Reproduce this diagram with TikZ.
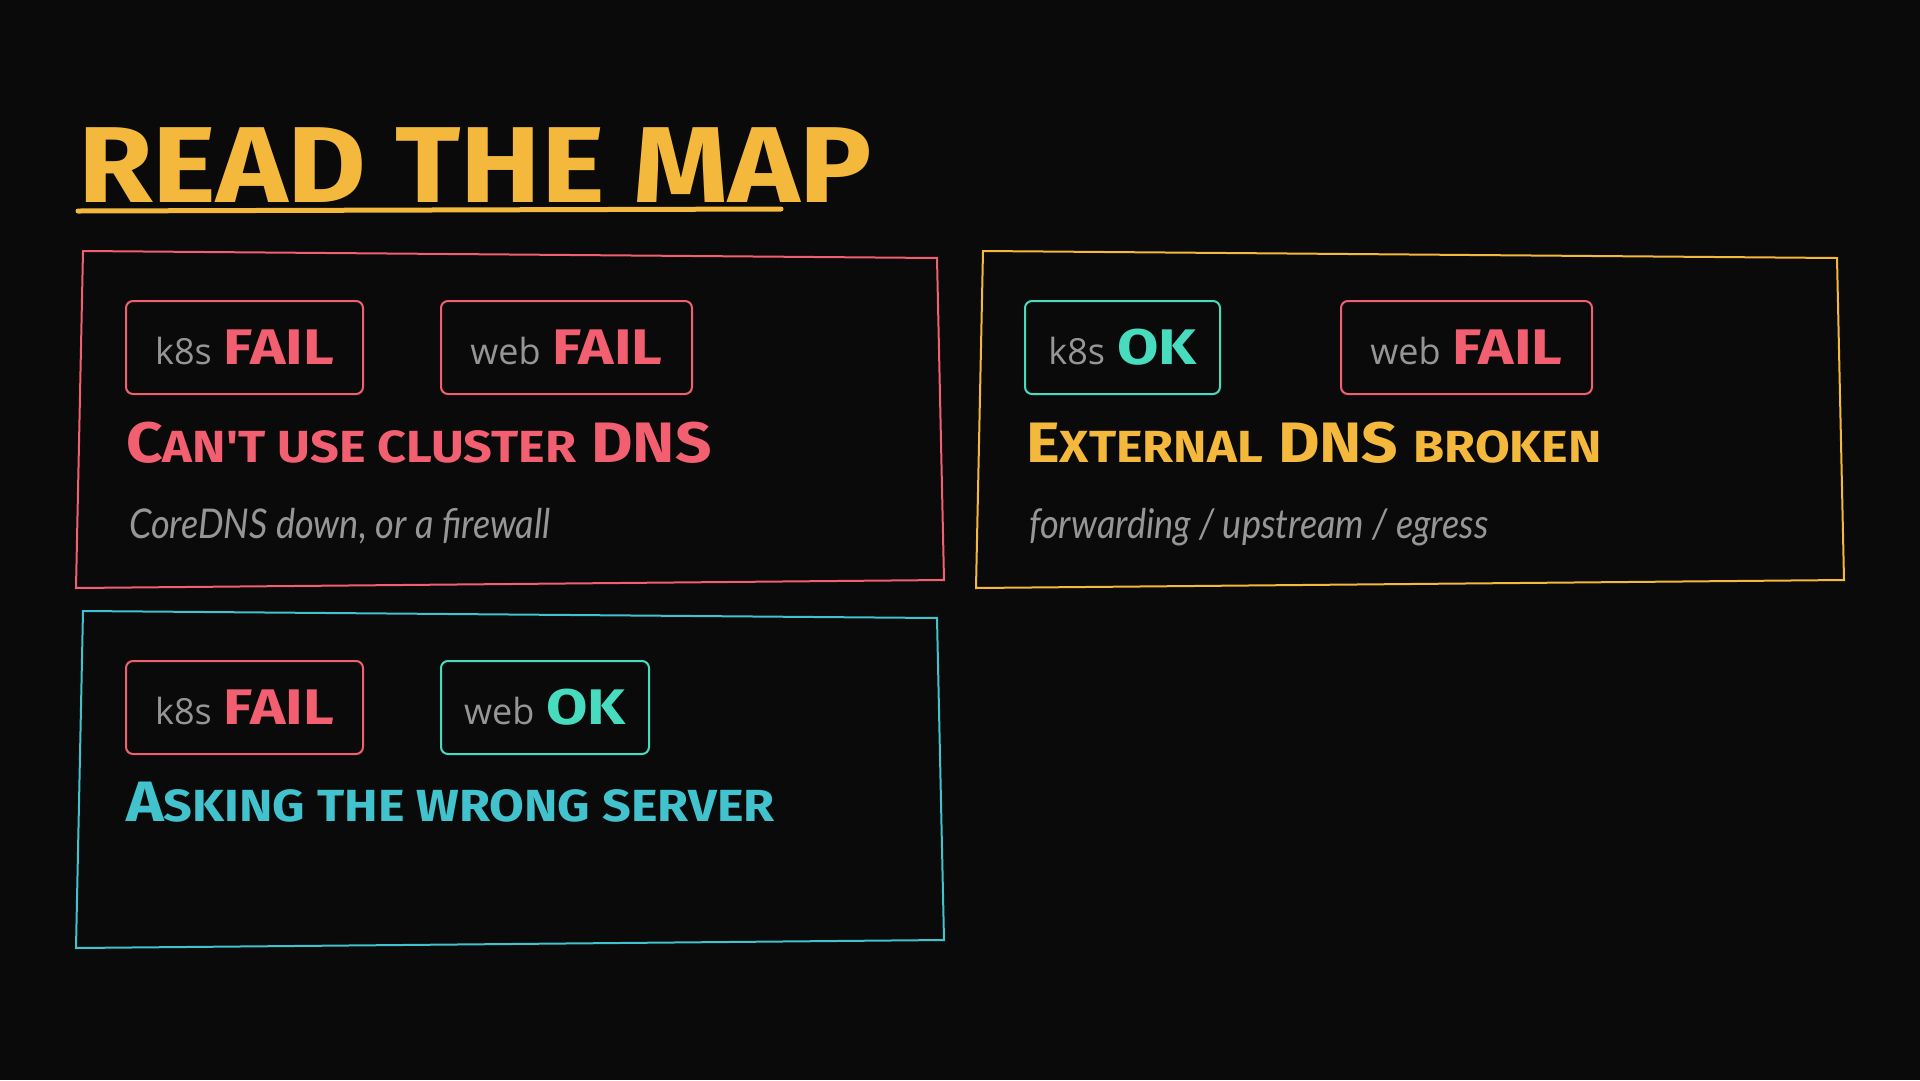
\documentclass[tikz,border=0pt]{standalone}
\usepackage{fontspec}
\setmainfont{Open Sans}
\newfontfamily\marker{Fira Sans}[FakeStretch=1.12]
\newfontfamily\markerw{Fira Sans}[FakeStretch=1.2]
\newfontfamily\hand{Lato}[FakeStretch=0.88]
\definecolor{bgc}{RGB}{10,10,10}
\definecolor{redc}{RGB}{242,95,112}
\definecolor{yelc}{RGB}{244,185,60}
\definecolor{cyac}{RGB}{66,194,204}
\definecolor{mintc}{RGB}{72,220,190}
\definecolor{greyc}{RGB}{150,150,150}
\newcommand\smc[1]{{\fontsize{45}{45}\selectfont\MakeUppercase{#1}}}
\newcommand\lbl[1]{{\color{greyc}\fontsize{36}{36}\selectfont #1}\hspace{12pt}}
\newcommand\fail{{\markerw\bfseries\fontsize{50}{50}\selectfont\color{redc}FAIL}}
\newcommand\okk{{\markerw\bfseries\fontsize{50}{50}\selectfont\color{mintc}OK}}
\tikzset{
  pill/.style={draw, rounded corners=7, line width=2, inner sep=0, minimum height=93, fill=bgc},
  heading/.style={anchor=base west, inner sep=0, font=\marker\bfseries\fontsize{57}{57}\selectfont},
  subline/.style={anchor=base west, inner sep=0, text=greyc, font=\hand\itshape\fontsize{41}{41}\selectfont},
  frame/.style={line width=2}
}
\begin{document}
\begin{tikzpicture}[x=1pt,y=-1pt]
\fill[bgc] (0,0) rectangle (1920,1080);
\useasboundingbox (0,0) rectangle (1920,1080);

% title
\node[anchor=base west, inner sep=0, text=yelc, font=\marker\bfseries\fontsize{108}{108}\selectfont] (title) at (78,202) {READ THE MAP};
\coordinate (ulA) at (78,211);
\coordinate (ulB) at (781,209);
\draw[yelc, line width=5, line cap=round] (ulA) -- (ulB);

% frames
\coordinate (a1) at (83,251); \coordinate (a2) at (937,258); \coordinate (a3) at (944,580); \coordinate (a4) at (76,588);
\coordinate (b1) at (983,251); \coordinate (b2) at (1837,258); \coordinate (b3) at (1844,580); \coordinate (b4) at (976,588);
\coordinate (c1) at (83,611); \coordinate (c2) at (937,618); \coordinate (c3) at (944,940); \coordinate (c4) at (76,948);
\draw[frame, redc] (a1) -- (a2) -- (a3) -- (a4) -- cycle;
\draw[frame, yelc] (b1) -- (b2) -- (b3) -- (b4) -- cycle;
\draw[frame, cyac] (c1) -- (c2) -- (c3) -- (c4) -- cycle;

% box 1
\node[pill, draw=redc, minimum width=237] (p1a) at (244.5,347.5) {\lbl{k8s}\fail};
\node[pill, draw=redc, minimum width=251] (p1b) at (566.5,347.5) {\lbl{web}\fail};
\node[heading, text=redc] (h1) at (126,462) {C\smc{an't use cluster} DNS};
\node[subline] (s1) at (129,538) {CoreDNS down, or a firewall};

% box 2
\node[pill, draw=mintc, minimum width=195] (p2a) at (1122.5,347.5) {\lbl{k8s}\okk};
\node[pill, draw=redc, minimum width=251] (p2b) at (1466.5,347.5) {\lbl{web}\fail};
\node[heading, text=yelc] (h2) at (1026,462) {E\smc{xternal} DNS \smc{broken}};
\node[subline] (s2) at (1029,538) {forwarding / upstream / egress};

% box 3
\node[pill, draw=redc, minimum width=237] (p3a) at (244.5,707.5) {\lbl{k8s}\fail};
\node[pill, draw=mintc, minimum width=208] (p3b) at (545,707.5) {\lbl{web}\okk};
\node[heading, text=cyac] (h3) at (126,821) {A\smc{sking the wrong server}};
\end{tikzpicture}
\end{document}
